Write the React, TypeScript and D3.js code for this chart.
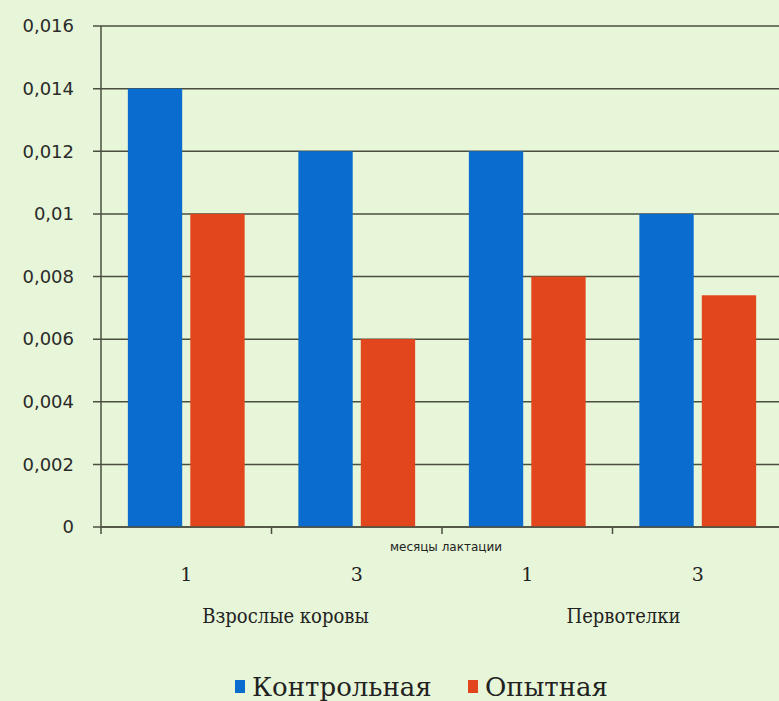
import React from "react";
import * as d3 from "d3";

const categories = ["1", "3", "1", "3"];
const groupLabels = ["Взрослые коровы", "Первотелки"];
const seriesNames = ["Контрольная", "Опытная"];
const control = [0.014, 0.012, 0.012, 0.01];
const experimental = [0.01, 0.006, 0.008, 0.0074];
const yTicks = [0, 0.002, 0.004, 0.006, 0.008, 0.01, 0.012, 0.014, 0.016];
const xAxisTitle = "месяцы лактации";

const colors = ["#0b6ccf", "#e2461c"];
const W = 779, H = 701;

export default function App() {
  const y = d3.scaleLinear().domain([0, 0.016]).range([527, 26]);
  const x = d3.scaleBand<number>().domain(d3.range(categories.length)).range([101, 783]).paddingInner(0).paddingOuter(0);
  const inner = d3.scaleBand<number>().domain([0, 1]).range([0, x.bandwidth()]).paddingInner(0.13).paddingOuter(0.43);
  const series = [control, experimental];
  const fmt = (v: number) => (v === 0 ? "0" : String(+v.toFixed(3)).replace(".", ","));
  const groupCenters = [x(0)! + x.bandwidth() + 14, x(2)! + x.bandwidth() + 11];
  return (
    <svg width={W} height={H} style={{ position: "absolute", left: 0, top: 0, background: "#e7f5d8" }}>
      <rect x={0} y={0} width={W} height={H} fill="#e7f5d8" />
      {yTicks.map((t) => (
        <g key={t}>
          <line x1={93} x2={W} y1={y(t)} y2={y(t)} stroke="#4b4f40" strokeWidth={1.5} />
          <text x={74} y={y(t)} dy="0.35em" textAnchor="end" fontFamily="'DejaVu Sans', sans-serif" fontSize={18} fill="#2a2a2a">{fmt(t)}</text>
        </g>
      ))}
      {series.map((s, si) =>
        s.map((v, i) => (
          <rect key={si + "-" + i} x={x(i)! + inner(si)!} width={inner.bandwidth()} y={y(v)} height={y(0) - y(v)} fill={colors[si]} />
        ))
      )}
      <line x1={101} x2={101} y1={26} y2={527} stroke="#4b4f40" strokeWidth={1.5} />
      <line x1={101} x2={W} y1={527} y2={527} stroke="#4b4f40" strokeWidth={1.5} />
      {d3.range(categories.length + 1).map((i) => {
        const xx = 101 + i * x.bandwidth();
        return <line key={i} x1={xx} x2={xx} y1={527} y2={534} stroke="#4b4f40" strokeWidth={1.5} />;
      })}
      {categories.map((c, i) => (
        <text key={i} x={x(i)! + x.bandwidth() / 2} y={581} textAnchor="middle" fontFamily="'DejaVu Serif', serif" fontSize={19} fill="#222">{c}</text>
      ))}
      {groupLabels.map((g, gi) => (
        <text key={g} x={groupCenters[gi]} y={623} textAnchor="middle" fontFamily="'DejaVu Serif Condensed', 'DejaVu Serif', serif" fontSize={20} fill="#222">{g}</text>
      ))}
      <text x={446} y={551} textAnchor="middle" fontFamily="'DejaVu Sans', sans-serif" fontSize={12} fill="#222">{xAxisTitle}</text>
      {seriesNames.map((n, i) => {
        const lx = i === 0 ? 235 : 468;
        return (
          <g key={n}>
            <rect x={lx} y={680} width={10} height={13} fill={colors[i]} />
            <text x={lx + 17} y={696} fontFamily="'DejaVu Serif', serif" fontSize={26} fill="#222">{n}</text>
          </g>
        );
      })}
    </svg>
  );
}
